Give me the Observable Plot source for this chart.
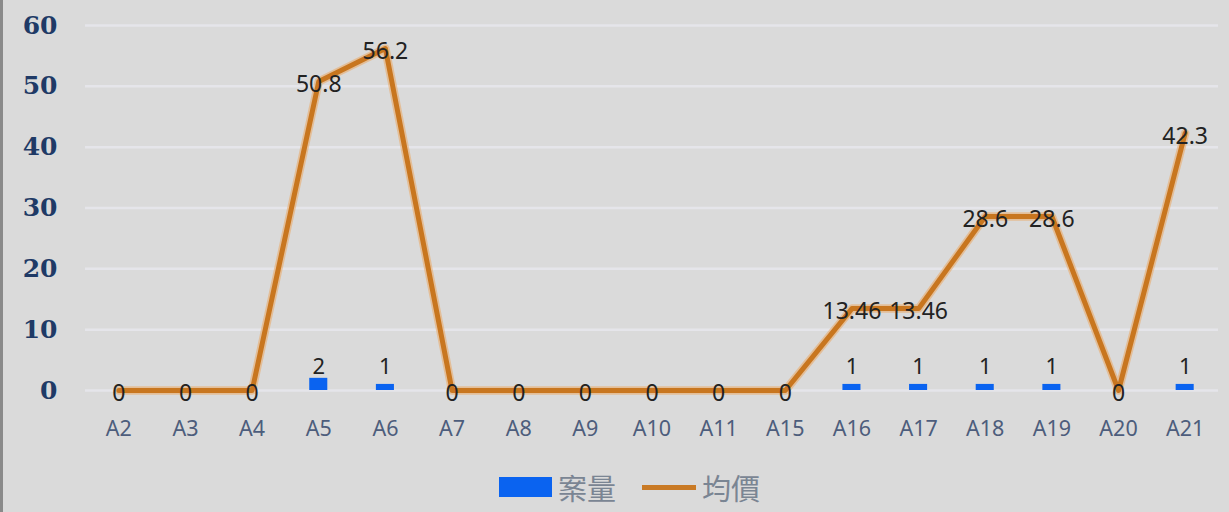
<!DOCTYPE html>
<html>
<head>
<meta charset="utf-8">
<script src="https://cdn.jsdelivr.net/npm/d3@7"></script>
<script src="https://cdn.jsdelivr.net/npm/@observablehq/plot@0.6"></script>
<style>
  html, body { margin: 0; padding: 0; background: #dadada; }
  #wrap { width: 1229px; height: 512px; position: relative; background: #dadada; box-sizing: border-box; border-left: 3px solid #8a8a8a; overflow: hidden; }
  #chart { position: absolute; left: -3px; top: 0; }
  #legend { position: absolute; left: 0; top: 462px; width: 1229px; height: 50px; box-sizing: border-box; padding-left: 24px; display: flex; justify-content: center; align-items: center; font-family: "Noto Sans CJK TC", "Noto Sans", sans-serif; font-size: 29px; color: #7a8593; }
  .sw-bar { width: 53px; height: 20px; background: #0a63f0; margin-right: 6px; }
  .sw-line { width: 54px; height: 5px; background: #c97a25; margin-left: 26px; margin-right: 6px; }
</style>
</head>
<body>
<div id="wrap">
  <div id="chart"></div>
  <div id="legend">
    <div class="sw-bar"></div><span id="lg1"></span>
    <div class="sw-line"></div><span id="lg2"></span>
  </div>
</div>
<script>
const categories = ["A2","A3","A4","A5","A6","A7","A8","A9","A10","A11","A15","A16","A17","A18","A19","A20","A21"];
const caseCount = [0,0,0,2,1,0,0,0,0,0,0,1,1,1,1,0,1];
const avgPrice = [0,0,0,50.8,56.2,0,0,0,0,0,0,13.46,13.46,28.6,28.6,0,42.3];
const yTicks = [0,10,20,30,40,50,60];
const seriesNames = ["案量","均價"];

document.getElementById("lg1").textContent = seriesNames[0];
document.getElementById("lg2").textContent = seriesNames[1];

const rows = categories.map((c, i) => ({cat: c, n: caseCount[i], p: avgPrice[i]}));

const chart = Plot.plot({
  width: 1229,
  height: 462,
  marginLeft: 85,
  marginRight: 11,
  marginTop: 25,
  marginBottom: 72,
  style: {background: "transparent"},
  x: {type: "band", domain: categories, padding: 0, round: false},
  y: {domain: [0, 60]},
  marks: [
    Plot.ruleY(yTicks, {stroke: "#e5e5ea", strokeWidth: 2.5}),
    Plot.axisY({ticks: yTicks, tickSize: 0, tickPadding: 28, label: null,
      fontFamily: "DejaVu Serif", fontWeight: "bold", fontSize: 25, fill: "#1f3a66"}),
    Plot.axisX({tickSize: 0, tickPadding: 30, label: null,
      fontFamily: "Noto Sans", fontSize: 21.5, fill: "#4d5d7c"}),
    Plot.barY(rows, {x: "cat", y: "n", fill: "#0a63f0", insetLeft: 24.3, insetRight: 24.3}),
    Plot.text(rows.filter(d => d.n > 0), {x: "cat", y: 0, text: d => String(d.n), dy: -24,
      fontFamily: "Noto Sans", fontSize: 22, fill: "#222"}),
    Plot.lineY(rows, {x: "cat", y: "p", stroke: "#eba862", strokeWidth: 8.5, strokeOpacity: 0.55}),
    Plot.lineY(rows, {x: "cat", y: "p", stroke: "#c8761f", strokeWidth: 5}),
    Plot.text(rows, {x: "cat", y: "p", text: d => String(d.p), dy: 3,
      fontFamily: "Noto Sans", fontSize: 23, fill: "#222"})
  ]
});
chart.style.fontSize = "20px";
document.getElementById("chart").appendChild(chart);
</script>
</body>
</html>
